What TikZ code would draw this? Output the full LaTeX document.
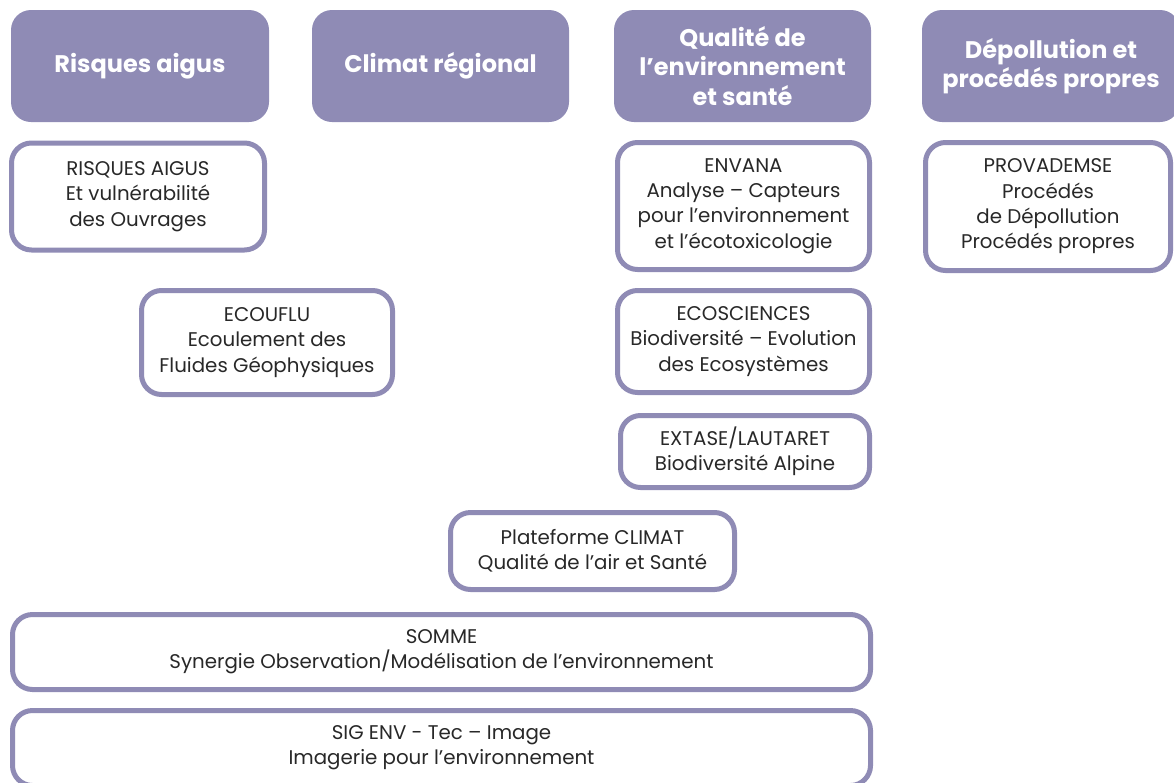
\documentclass[tikz,border=0pt]{standalone}
\usepackage{fontspec}
\setmainfont{Poppins}
\definecolor{lav}{RGB}{143,139,181}
\definecolor{txt}{RGB}{40,40,40}
\tikzset{
  x=1pt,y=-1pt,
  hdr/.style={fill=lav,draw=none,rounded corners=20pt,inner sep=0pt,align=center,text=white,
    font=\fontsize{24}{29.5}\selectfont\bfseries},
  unit/.style={draw=lav,line width=5pt,fill=white,rounded corners=20pt,inner sep=0pt,align=center,text=txt,
    font=\fontsize{19.8}{25.3}\selectfont}
}
\begin{document}
\begin{tikzpicture}
\useasboundingbox (0,0) rectangle (1174,782);
\clip (0,0) rectangle (1174,782);
% headers
\node[hdr,minimum width=258pt,minimum height=112pt] (h1) at (140,66) {Risques aigus};
\node[hdr,minimum width=257pt,minimum height=112pt] (h2) at (440.5,66) {Climat régional};
\node[hdr,minimum width=257pt,minimum height=112pt] (h3) at (742.5,66) {Qualité de\\l’environnement\\et santé};
\node[hdr,minimum width=258pt,minimum height=112pt] (h4) at (1051,66) {Dépollution et\\procédés propres};
% units
\node[unit,minimum width=253pt,minimum height=107pt] (b1) at (138,196.5) {RISQUES AIGUS\\Et vulnérabilité\\des Ouvrages};
\node[unit,minimum width=251pt,minimum height=104pt] (b2) at (267,342.5) {ECOUFLU\\Ecoulement des\\Fluides Géophysiques};
\node[unit,minimum width=252pt,minimum height=127pt] (b3) at (743.5,206) {ENVANA\\Analyse – Capteurs\\pour l’environnement\\et l’écotoxicologie};
\node[unit,minimum width=245pt,minimum height=128pt] (b4) at (1048,206.5) {PROVADEMSE\\Procédés\\de Dépollution\\Procédés propres};
\node[unit,minimum width=252pt,minimum height=102pt] (b5) at (743.5,341.5) {ECOSCIENCES\\Biodiversité – Evolution\\des Ecosystèmes};
\node[unit,minimum width=249pt,minimum height=72pt] (b6) at (745,451.5) {EXTASE/LAUTARET\\Biodiversité Alpine};
\node[unit,minimum width=284pt,minimum height=77pt] (b7) at (592.5,551) {Plateforme CLIMAT\\Qualité de l’air et Santé};
\node[unit,minimum width=858pt,minimum height=75pt] (b8) at (441.5,652) {SOMME\\Synergie Observation/Modélisation de l’environnement};
\node[unit,minimum width=858pt,minimum height=75pt] (b9) at (441.5,748) {SIG ENV - Tec – Image\\Imagerie pour l’environnement};
\end{tikzpicture}
\end{document}
